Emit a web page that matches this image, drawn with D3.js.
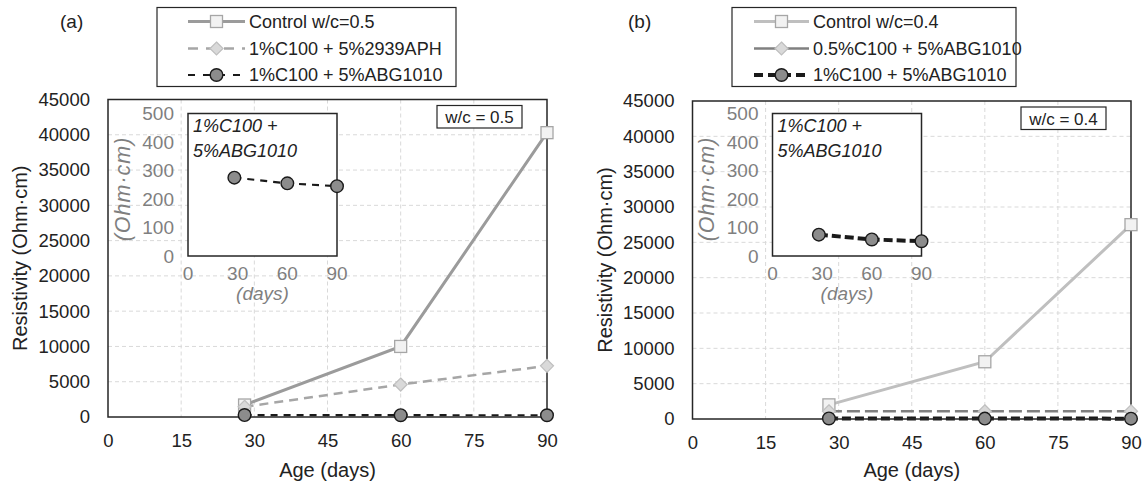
<!DOCTYPE html>
<html><head><meta charset="utf-8">
<script src="https://cdn.jsdelivr.net/npm/d3@7"></script>
<style>body{margin:0;background:#fff}svg{display:block}text{font-family:"Liberation Sans",Arial,sans-serif}</style>
</head><body><svg id="c" width="1145" height="488"></svg>
<script>
// ---- data ----
const days = [28, 60, 90];
const xTicks = [0, 15, 30, 45, 60, 75, 90];
const yTicks = [0, 5000, 10000, 15000, 20000, 25000, 30000, 35000, 40000, 45000];
const insetXTicks = [0, 30, 60, 90];
const insetYTicks = [0, 100, 200, 300, 400, 500];

const aControl = [1700, 10000, 40300];
const aAPH = [1450, 4600, 7250];
const aABG = [275, 255, 245];
const bControl = [2000, 8100, 27500];
const bHalfABG = [1100, 1100, 1100];
const bABG = [75, 58, 52];

const aNames = ["Control w/c=0.5", "1%C100 + 5%2939APH", "1%C100 + 5%ABG1010"];
const bNames = ["Control w/c=0.4", "0.5%C100 + 5%ABG1010", "1%C100 + 5%ABG1010"];

const svg = d3.select("#c");

function drawMarker(g, type, x, y, st) {
  if (type === "square") {
    g.append("rect").attr("x", x - 6).attr("y", y - 6).attr("width", 12).attr("height", 12)
      .attr("fill", st.mfill).attr("stroke", st.mstroke).attr("stroke-width", 1.3);
  } else if (type === "diamond") {
    g.append("path").attr("d", `M${x},${y-6.5}L${x+6.5},${y}L${x},${y+6.5}L${x-6.5},${y}Z`)
      .attr("fill", st.mfill).attr("stroke", st.mstroke).attr("stroke-width", 1.2);
  } else {
    g.append("circle").attr("cx", x).attr("cy", y).attr("r", 6.3)
      .attr("fill", st.mfill).attr("stroke", st.mstroke).attr("stroke-width", 1.4);
  }
}

function panel(o) {
  const g = svg.append("g");
  const x = d3.scaleLinear().domain([0, 90]).range([o.left, o.right]);
  const y = d3.scaleLinear().domain([0, 45000]).range([o.bottom, o.top]);

  // grid
  g.append("g").selectAll("line").data(yTicks.filter(v => v > 0 && v < 45000)).join("line")
    .attr("x1", o.left).attr("x2", o.right).attr("y1", d => y(d)).attr("y2", d => y(d))
    .attr("stroke", "#d9d9d9").attr("stroke-width", 1).attr("stroke-dasharray", "4,3");
  g.append("g").selectAll("line").data(xTicks.filter(v => v > 0 && v < 90)).join("line")
    .attr("y1", o.top).attr("y2", o.bottom).attr("x1", d => x(d)).attr("x2", d => x(d))
    .attr("stroke", "#d9d9d9").attr("stroke-width", 1).attr("stroke-dasharray", "4,3");

  // axes (labels only)
  const ya = g.append("g").attr("transform", `translate(${o.left},0)`)
    .call(d3.axisLeft(y).tickValues(yTicks).tickSize(0).tickPadding(18).tickFormat(d3.format("d")));
  ya.select(".domain").remove();
  ya.selectAll("text").attr("font-size", 18.5).attr("fill", "#222").attr("font-family", "Liberation Sans, Arial");
  const xa = g.append("g").attr("transform", `translate(0,${o.bottom})`)
    .call(d3.axisBottom(x).tickValues(xTicks).tickSize(0).tickPadding(17));
  xa.select(".domain").remove();
  xa.selectAll("text").attr("font-size", 18.5).attr("fill", "#222").attr("font-family", "Liberation Sans, Arial");

  g.append("text").attr("transform", `translate(${o.left - 88},${(o.top + o.bottom) / 2}) rotate(-90)`)
    .attr("text-anchor", "middle").attr("dy", "0.35em").attr("font-size", 20).attr("fill", "#222")
    .text("Resistivity (Ohm·cm)");
  g.append("text").attr("x", (o.left + o.right) / 2).attr("y", 477).attr("text-anchor", "middle")
    .attr("font-size", 20).attr("fill", "#222").text("Age (days)");

  // inset y labels & title (drawn behind inset box)
  const ix = d3.scaleLinear().domain([0, 90]).range([o.left + 80, o.left + 229]);
  const iy = d3.scaleLinear().domain([0, 500]).range([256, 113.5]);
  g.append("g").selectAll("text").data(insetYTicks).join("text")
    .attr("x", o.left + 66).attr("y", d => iy(d)).attr("dy", "0.35em").attr("text-anchor", "end")
    .attr("font-size", 19).attr("fill", "#7f7f7f").text(d => d);
  g.append("text").attr("transform", `translate(${o.left + 14},${189}) rotate(-90)`)
    .attr("text-anchor", "middle").attr("dy", "0.35em").attr("font-size", 21.5).attr("font-style", "italic")
    .attr("fill", "#7f7f7f").attr("letter-spacing", 1).text("(Ohm·cm)");
  g.append("g").selectAll("text").data(insetXTicks).join("text")
    .attr("x", d => ix(d)).attr("y", 280).attr("text-anchor", "middle")
    .attr("font-size", 19).attr("fill", "#7f7f7f").text(d => d);
  g.append("text").attr("x", ix(45)).attr("y", 300).attr("text-anchor", "middle")
    .attr("font-size", 19).attr("font-style", "italic").attr("fill", "#7f7f7f").text("(days)");

  // series
  o.series.forEach(s => {
    const line = d3.line().x((d, i) => x(days[i])).y(d => y(d));
    g.append("path").datum(s.values).attr("d", line).attr("fill", "none")
      .attr("stroke", s.color).attr("stroke-width", s.width).attr("stroke-dasharray", s.dash || null);
  });

  // frame
  g.append("rect").attr("x", o.left).attr("y", o.top).attr("width", o.right - o.left).attr("height", o.bottom - o.top)
    .attr("fill", "none").attr("stroke", "#262626").attr("stroke-width", 1.5);

  o.series.forEach(s => {
    s.values.forEach((v, i) => drawMarker(g, s.marker, x(days[i]), y(v), s));
  });

  // inset box
  g.append("rect").attr("x", ix(0)).attr("y", iy(500)).attr("width", ix(90) - ix(0)).attr("height", iy(0) - iy(500))
    .attr("fill", "#fff").attr("stroke", "#262626").attr("stroke-width", 1.5);
  g.append("text").attr("x", ix(0) + 5).attr("y", 131.5).attr("font-size", 18).attr("font-style", "italic")
    .attr("fill", "#222").text("1%C100 +");
  g.append("text").attr("x", ix(0) + 5).attr("y", 156.5).attr("font-size", 18).attr("font-style", "italic")
    .attr("fill", "#222").text("5%ABG1010");
  const is = o.series[2];
  const iline = d3.line().x((d, i) => ix(days[i])).y(d => iy(d));
  g.append("path").datum(is.insetValues).attr("d", iline).attr("fill", "none")
    .attr("stroke", is.color).attr("stroke-width", is.width).attr("stroke-dasharray", is.dash);
  is.insetValues.forEach((v, i) => drawMarker(g, "circle", ix(days[i]), iy(v), is));

  // w/c box
  const wb = g.append("g");
  wb.append("rect").attr("x", o.right - 110).attr("y", o.top + 6).attr("width", 85).attr("height", 22.5)
    .attr("fill", "#fff").attr("stroke", "#262626").attr("stroke-width", 1.2);
  wb.append("text").attr("x", o.right - 67.5).attr("y", o.top + 23.5).attr("text-anchor", "middle")
    .attr("font-size", 17).attr("fill", "#222").text(o.wc);

  // panel label
  g.append("text").attr("x", o.labelX).attr("y", 28).attr("font-size", 19).attr("fill", "#222").text(o.label);

  // legend
  const lg = g.append("g");
  lg.append("rect").attr("x", o.legX).attr("y", 7.5).attr("width", o.legW).attr("height", 79)
    .attr("fill", "#fff").attr("stroke", "#262626").attr("stroke-width", 1.2);
  const rows = [21.5, 48.5, 75];
  o.series.forEach((s, i) => {
    const lx0 = o.legX + o.legL0, lx1 = o.legX + o.legL1, cy = rows[i];
    lg.append("line").attr("x1", lx0).attr("x2", lx1).attr("y1", cy).attr("y2", cy)
      .attr("stroke", s.color).attr("stroke-width", s.width).attr("stroke-dasharray", s.legDash || null);
    drawMarker(lg, s.marker, (lx0 + lx1) / 2, cy, s);
    lg.append("text").attr("x", lx1 + 4).attr("y", cy).attr("dy", "0.35em").attr("font-size", 18)
      .attr("fill", "#222").text(o.names[i]);
  });
}

panel({
  left: 108, right: 547, top: 99.5, bottom: 417, label: "(a)", labelX: 60, wc: "w/c = 0.5",
  legX: 157, legW: 299, legL0: 31, legL1: 88, names: aNames,
  series: [
    {values: aControl, color: "#9b9b9b", width: 3, marker: "square", mfill: "#f2f2f2", mstroke: "#a6a6a6"},
    {values: aAPH, color: "#a6a6a6", width: 2.5, dash: "9,6", legDash: "10,8", marker: "diamond", mfill: "#d9d9d9", mstroke: "#bfbfbf"},
    {values: aABG, insetValues: aABG, color: "#1a1a1a", width: 2.2, dash: "7,6", legDash: "7,8", marker: "circle", mfill: "#8c8c8c", mstroke: "#1a1a1a"}
  ]
});

panel({
  left: 692.5, right: 1131, top: 101, bottom: 419, label: "(b)", labelX: 628, wc: "w/c = 0.4",
  legX: 732, legW: 284, legL0: 22, legL1: 77, names: bNames,
  series: [
    {values: bControl, color: "#bfbfbf", width: 3, marker: "square", mfill: "#f2f2f2", mstroke: "#a6a6a6"},
    {values: bHalfABG, color: "#808080", width: 2.5, dash: "13,5", marker: "diamond", mfill: "#d9d9d9", mstroke: "#bfbfbf"},
    {values: bABG, insetValues: bABG, color: "#1a1a1a", width: 4, dash: "9,4", legDash: "9,5", marker: "circle", mfill: "#8c8c8c", mstroke: "#1a1a1a"}
  ]
});
</script></body></html>
